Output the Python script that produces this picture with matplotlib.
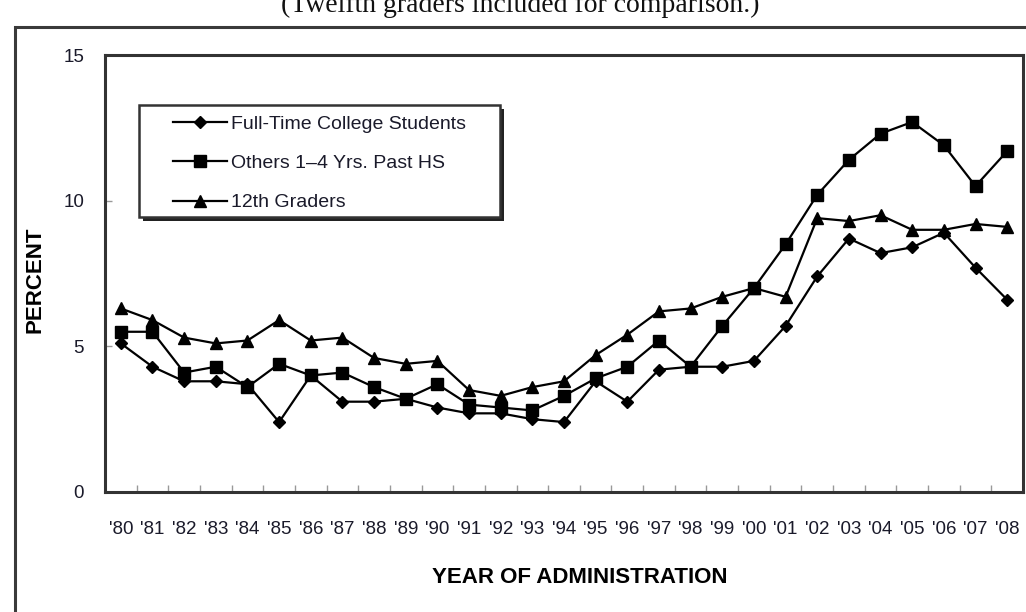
import matplotlib
matplotlib.use("Agg")
import matplotlib.pyplot as plt
from matplotlib.patches import Rectangle
from matplotlib.ticker import FixedLocator, NullFormatter

years = ["'80", "'81", "'82", "'83", "'84", "'85", "'86", "'87", "'88", "'89",
         "'90", "'91", "'92", "'93", "'94", "'95", "'96", "'97", "'98", "'99",
         "'00", "'01", "'02", "'03", "'04", "'05", "'06", "'07", "'08"]
full_time = [5.1, 4.3, 3.8, 3.8, 3.7, 2.4, 4.0, 3.1, 3.1, 3.2,
             2.9, 2.7, 2.7, 2.5, 2.4, 3.8, 3.1, 4.2, 4.3, 4.3,
             4.5, 5.7, 7.4, 8.7, 8.2, 8.4, 8.9, 7.7, 6.6]
others = [5.5, 5.5, 4.1, 4.3, 3.6, 4.4, 4.0, 4.1, 3.6, 3.2,
          3.7, 3.0, 2.9, 2.8, 3.3, 3.9, 4.3, 5.2, 4.3, 5.7,
          7.0, 8.5, 10.2, 11.4, 12.3, 12.7, 11.9, 10.5, 11.7]
twelfth = [6.3, 5.9, 5.3, 5.1, 5.2, 5.9, 5.2, 5.3, 4.6, 4.4,
           4.5, 3.5, 3.3, 3.6, 3.8, 4.7, 5.4, 6.2, 6.3, 6.7,
           7.0, 6.7, 9.4, 9.3, 9.5, 9.0, 9.0, 9.2, 9.1]
series_labels = ["Full-Time College Students", "Others 1\u20134 Yrs. Past HS", "12th Graders"]
y_ticks = [0, 5, 10, 15]
title_text = "(Twelfth graders included for comparison.)"

plt.rcParams['font.family'] = ['Liberation Sans', 'DejaVu Sans']

W, H = 1026, 612
fig = plt.figure(figsize=(W / 100, H / 100), dpi=100)

# outer frame (extends past the right and bottom edges)
frame = Rectangle((15 / W, -0.2), 1.2, 1 - 27 / H + 0.2, transform=fig.transFigure,
                  fill=False, edgecolor='#3a3a3a', linewidth=2.2, clip_on=False)
fig.patches.append(frame)

fig.text(520 / W, 1 - 12 / H, title_text, ha='center', va='baseline',
         family=['Liberation Serif', 'DejaVu Serif'], fontsize=20, color='#111111')

left, right, top, bottom = 105, 1023, 55, 492
ax = fig.add_axes([left / W, 1 - bottom / H, (right - left) / W, (bottom - top) / H])

x = list(range(len(years)))
ax.plot(x, full_time, color='black', lw=1.6, marker='D', markersize=6, label=series_labels[0])
ax.plot(x, others, color='black', lw=1.6, marker='s', markersize=8, label=series_labels[1])
ax.plot(x, twelfth, color='black', lw=1.6, marker='^', markersize=8, label=series_labels[2])

ax.set_xlim(-0.5, len(years) - 0.5)
ax.set_ylim(0, 15)
ax.set_yticks(y_ticks)
ax.set_yticklabels([str(v) for v in y_ticks])
ax.set_xticks(x)
ax.set_xticklabels(years)
ax.xaxis.set_minor_locator(FixedLocator([i + 0.5 for i in range(len(years) - 1)]))
ax.xaxis.set_minor_formatter(NullFormatter())

ax.tick_params(axis='x', which='major', length=0, pad=21, labelsize=13.5, labelcolor='#1a1a2a')
ax.tick_params(axis='x', which='minor', direction='in', length=5, color='#999999', width=1)
ax.tick_params(axis='y', which='major', direction='in', length=5, color='#999999', width=1,
               pad=15, labelsize=13.5, labelcolor='#1a1a2a')

for s in ax.spines.values():
    s.set_color('#333333')
    s.set_linewidth(2.2)

ax.set_xlabel("YEAR OF ADMINISTRATION", fontsize=16, fontweight='bold', labelpad=10)
ax.xaxis.set_label_coords((580 - left) / (right - left), -(567 - bottom) / (bottom - top))
ax.set_ylabel("PERCENT", fontsize=16, fontweight='bold')
ax.yaxis.set_label_coords(-(left - 45) / (right - left), (bottom - 280) / (bottom - top))

# legend box with shadow
ax_w, ax_h = right - left, bottom - top
bx0, bx1, by0, by1 = 139, 500, 105, 217
shadow = Rectangle(((bx0 - left + 4) / ax_w, (bottom - by1 - 4) / ax_h),
                   (bx1 - bx0) / ax_w, (by1 - by0) / ax_h, transform=ax.transAxes,
                   facecolor='#222222', edgecolor='none', zorder=4)
box = Rectangle(((bx0 - left) / ax_w, (bottom - by1) / ax_h),
                (bx1 - bx0) / ax_w, (by1 - by0) / ax_h, transform=ax.transAxes,
                facecolor='white', edgecolor='#333333', linewidth=1.8, zorder=5)
ax.add_patch(shadow)
ax.add_patch(box)

leg = ax.legend(loc='upper left', bbox_to_anchor=((173 - left) / ax_w, (bottom - 115) / ax_h),
                frameon=False, fontsize=14, handlelength=2.8, handletextpad=0.2,
                borderpad=0, borderaxespad=0, labelspacing=1.12)
leg.set_zorder(6)
for t in leg.get_texts():
    t.set_color('#1a1a2a')

fig.savefig("out.png", dpi=100)
